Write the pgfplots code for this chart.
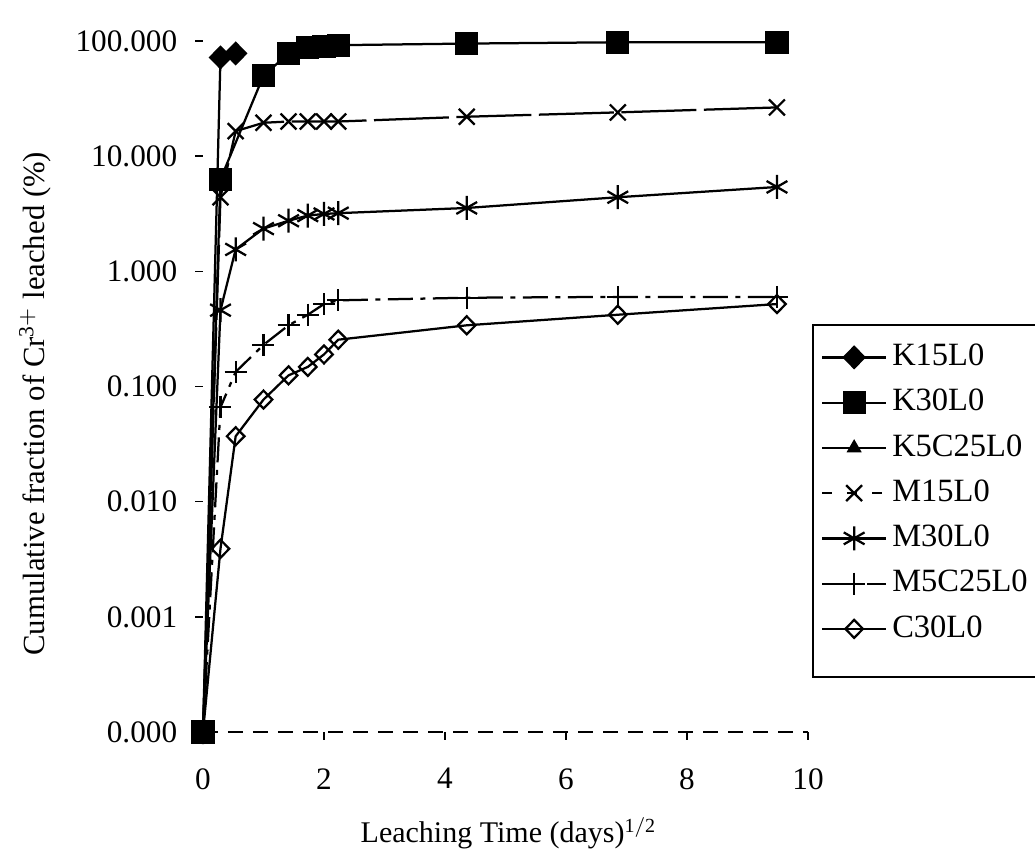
\documentclass[border=0pt]{standalone}
\usepackage{fontspec}
\setmainfont{Liberation Serif}
\usepackage{pgfplots}
\pgfplotsset{compat=1.18}
\begin{document}
\begin{tikzpicture}
\path[use as bounding box] (-81.2pt,-48pt) rectangle (332.8pt,292.8pt);
\begin{axis}[
  at={(0pt,0pt)}, anchor=south west,
  scale only axis, width=242pt, height=276.4pt,
  ymode=log, xmin=0, xmax=10, ymin=1e-4, ymax=100,
  axis x line*=bottom, axis y line*=left,
  x axis line style={line width=0.6pt, dash pattern=on 6pt off 4pt},
  y axis line style={draw=none},
  tick align=outside, major tick length=3pt, minor tick length=0pt,
  tick style={black, line width=0.6pt},
  xtick={0,2,4,6,8,10},
  ytick={1e-4,1e-3,1e-2,1e-1,1,10,100},
  yticklabels={0.000,0.001,0.010,0.100,1.000,10.000,100.000},
  /pgf/number format/assume math mode=true,
  ticklabel style={font=\fontsize{12.5}{15}\selectfont},
  xticklabel style={yshift=-8pt},
  yticklabel style={xshift=-3.8pt},
  every axis x label/.style={at={(axis description cs:0.505,-0.1606)}, anchor=base, font=\fontsize{12}{14}\selectfont},
  every axis y label/.style={at={(axis description cs:-0.2777,0.475)}, anchor=center, rotate=90, font=\fontsize{12.3}{14}\selectfont},
  xlabel={Leaching Time (days)$^{\mathrm{1/2}}$},
  ylabel={Cumulative fraction of Cr$^{\mathrm{3+}}$ leached (\%)},
  clip=false,
  legend cell align=left,
  legend style={at={(axis description cs:1.0083,0.5854)}, anchor=north west,
    draw=none, fill=none, inner xsep=3pt, inner ysep=4pt, row sep=2.6pt,
    font=\fontsize{13}{15}\selectfont,
    nodes={inner sep=2pt, text height=9pt, text depth=2.5pt}},
  legend image code/.code={\draw[mark repeat=2,mark phase=2] plot coordinates {(0pt,0pt) (12.8pt,0pt) (25.6pt,0pt)};},
]
% K15L0
\addplot[black, line width=0.9pt, mark=diamond*, mark size=4.2pt, mark options={solid, xscale=1.3}] coordinates {
 (0,0.0001) (0.289,72) (0.540,78)
};
\addlegendentry{K15L0}
% K30L0
\addplot[black, line width=0.9pt, mark=square*, mark size=4.2pt, mark options={solid}] coordinates {
 (0,0.0001) (0.289,6.3) (1,50) (1.414,78) (1.732,88) (2,90) (2.236,92) (4.359,95) (6.856,97.5) (9.487,97.5)
};
\addlegendentry{K30L0}
% K5C25L0
\addplot[black, line width=0.9pt, mark=triangle*, mark size=2.6pt, mark options={solid}] coordinates {
 (0,0.0001)
};
\addlegendentry{K5C25L0}
% M15L0
\addplot[black, line width=0.9pt, dash pattern=on 30pt off 3pt, mark=x, mark size=4.5pt, mark options={solid},
  legend image post style={dash pattern=on 4pt off 6pt}] coordinates {
 (0,0.0001) (0.289,4.4) (0.540,16.5) (1,19.5) (1.414,20) (1.732,20) (2,20) (2.236,20) (4.359,22) (6.856,24) (9.487,26.5)
};
\addlegendentry{M15L0}
% M30L0
\addplot[black, line width=0.9pt, mark=asterisk, mark size=4.8pt, mark options={solid}] coordinates {
 (0,0.0001) (0.289,0.46) (0.540,1.55) (1,2.35) (1.414,2.75) (1.732,3.05) (2,3.15) (2.236,3.2) (4.359,3.55) (6.856,4.4) (9.487,5.4)
};
\addlegendentry{M30L0}
% M5C25L0
\addplot[black, line width=0.9pt, dash pattern=on 10pt off 3pt on 2pt off 3pt, mark=+, mark size=4.4pt, mark options={solid}] coordinates {
 (0,0.0001) (0.289,0.066) (0.540,0.134) (1,0.23) (1.414,0.34) (1.732,0.42) (2,0.52) (2.236,0.56) (4.359,0.59) (6.856,0.6) (9.487,0.6)
};
\addlegendentry{M5C25L0}
% C30L0
\addplot[black, line width=0.9pt, mark=diamond, mark size=3.6pt, mark options={solid, xscale=1.3}] coordinates {
 (0,0.0001) (0.289,0.0039) (0.540,0.037) (1,0.077) (1.414,0.125) (1.732,0.148) (2,0.19) (2.236,0.255) (4.359,0.34) (6.856,0.42) (9.487,0.52)
};
\addlegendentry{C30L0}
\draw[black, line width=0.6pt] (axis description cs:1.0083,0.589) rectangle (axis description cs:1.6,0.0796);
\end{axis}
\end{tikzpicture}
\end{document}
